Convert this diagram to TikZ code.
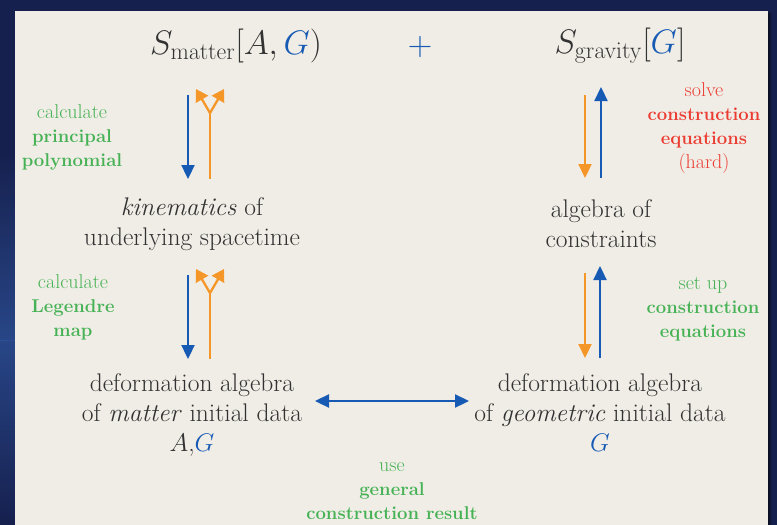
\RequirePackage{fix-cm}
\documentclass[tikz,border=0pt]{standalone}
\usetikzlibrary{arrows.meta,shadows.blur}
\definecolor{navy}{RGB}{22,32,78}
\definecolor{navylight}{RGB}{45,80,150}
\definecolor{paper}{RGB}{240,237,230}
\definecolor{ink}{RGB}{50,50,50}
\definecolor{myblue}{RGB}{22,90,180}
\definecolor{myorange}{RGB}{245,150,40}
\definecolor{mygreen}{RGB}{70,178,85}
\definecolor{myred}{RGB}{235,60,50}
\newcommand{\reglab}[1]{{\fontsize{20}{24}\selectfont #1}}
\tikzset{
  bluearr/.style={draw=myblue,line width=2.3pt,-{Triangle[width=13pt,length=14pt]}},
  bluedbl/.style={draw=myblue,line width=2.3pt,{Triangle[width=13pt,length=14pt]}-{Triangle[width=13pt,length=14pt]}},
  orangearr/.style={draw=myorange,line width=2.3pt,-{Triangle[width=13pt,length=14pt]}},
  orangeline/.style={draw=myorange,line width=2.3pt},
  orangefork/.style={draw=myorange,line width=2.3pt,line join=round,-{Triangle[width=14pt,length=12pt]}},
  maintext/.style={text=ink,align=center,font=\fontsize{25.5}{30}\selectfont,inner sep=0pt},
  mathtext/.style={text=ink,inner sep=0pt,font=\fontsize{34}{38}\selectfont},
  greenlab/.style={text=mygreen,align=center,font=\fontsize{18.5}{24}\selectfont,inner sep=0pt},
  redlab/.style={text=myred,align=center,font=\fontsize{18.5}{24}\selectfont,inner sep=0pt}
}
\begin{document}
\begin{tikzpicture}[x=1pt,y=-1pt]
\useasboundingbox (0,0) rectangle (777,525);
% background
\fill[navy] (0,0) rectangle (777,525);
\shade[top color=navy,bottom color=navylight,opacity=0.8] (0,150) rectangle (15,340);
\shade[top color=navylight,bottom color=navy,opacity=0.8] (0,340) rectangle (15,525);
% panel
\fill[paper,blur shadow={shadow blur steps=8,shadow xshift=2pt,shadow yshift=-2pt,shadow opacity=60}] (15,11) rectangle (768,540);

% top row
\node[mathtext] (smat) at (236,46) {$S_{\mathrm{matter}}[A,{\color{myblue}G})$};
\node[mathtext,text=myblue] (plus) at (420,47) {$+$};
\node[mathtext] (sgrav) at (620,46) {$S_{\mathrm{gravity}}[{\color{myblue}G}]$};

% middle row
\node[maintext] (kin) at (192,224) {\textit{kinematics} of\\underlying spacetime};
\node[maintext] (alg) at (601,224) {algebra of\\constraints};

% bottom row
\node[maintext,anchor=north] (defm) at (192,373) {deformation algebra\\of \textit{matter} initial data\\$A$,{\color{myblue}$G$}};
\node[maintext,anchor=north] (defg) at (600,373) {deformation algebra\\of \textit{geometric} initial data\\{\color{myblue}$G$}};

% labels
\node[greenlab] (l1) at (72,137) {\reglab{calculate}\\\textbf{principal}\\\textbf{polynomial}};
\node[greenlab] (l2) at (73,307) {\reglab{calculate}\\\textbf{Legendre}\\\textbf{map}};
\node[redlab] (l3) at (704,128) {\reglab{solve}\\\textbf{construction}\\\textbf{equations}\\\reglab{(hard)}};
\node[greenlab] (l4) at (703,309) {\reglab{set up}\\\textbf{construction}\\\textbf{equations}};
\node[greenlab] (l5) at (392,491) {\reglab{use}\\\textbf{general}\\\textbf{construction result}};

% left upper arrows
\coordinate (a1s) at (188,95);
\coordinate (a1e) at (188,179);
\draw[bluearr] (a1s) -- (a1e);
\coordinate (f1b) at (210,179);
\coordinate (f1) at (210,113);
\coordinate (f1l) at (196,89);
\coordinate (f1r) at (224,89);
\draw[orangeline] (f1b) -- (f1);
\draw[orangefork] (f1) -- (f1l);
\draw[orangefork] (f1) -- (f1r);

% left lower arrows
\coordinate (a2s) at (188,275);
\coordinate (a2e) at (188,359);
\draw[bluearr] (a2s) -- (a2e);
\coordinate (f2b) at (210,359);
\coordinate (f2) at (210,293);
\coordinate (f2l) at (196,269);
\coordinate (f2r) at (224,269);
\draw[orangeline] (f2b) -- (f2);
\draw[orangefork] (f2) -- (f2l);
\draw[orangefork] (f2) -- (f2r);

% right upper arrows
\coordinate (o1s) at (585,95);
\coordinate (o1e) at (585,178);
\draw[orangearr] (o1s) -- (o1e);
\coordinate (b1s) at (601,178);
\coordinate (b1e) at (601,87);
\draw[bluearr] (b1s) -- (b1e);

% right lower arrows
\coordinate (o2s) at (585,273);
\coordinate (o2e) at (585,358);
\draw[orangearr] (o2s) -- (o2e);
\coordinate (b2s) at (600,358);
\coordinate (b2e) at (600,266);
\draw[bluearr] (b2s) -- (b2e);

% horizontal double arrow
\coordinate (hl) at (315,401);
\coordinate (hr) at (469,401);
\draw[bluedbl] (hl) -- (hr);
\end{tikzpicture}
\end{document}
